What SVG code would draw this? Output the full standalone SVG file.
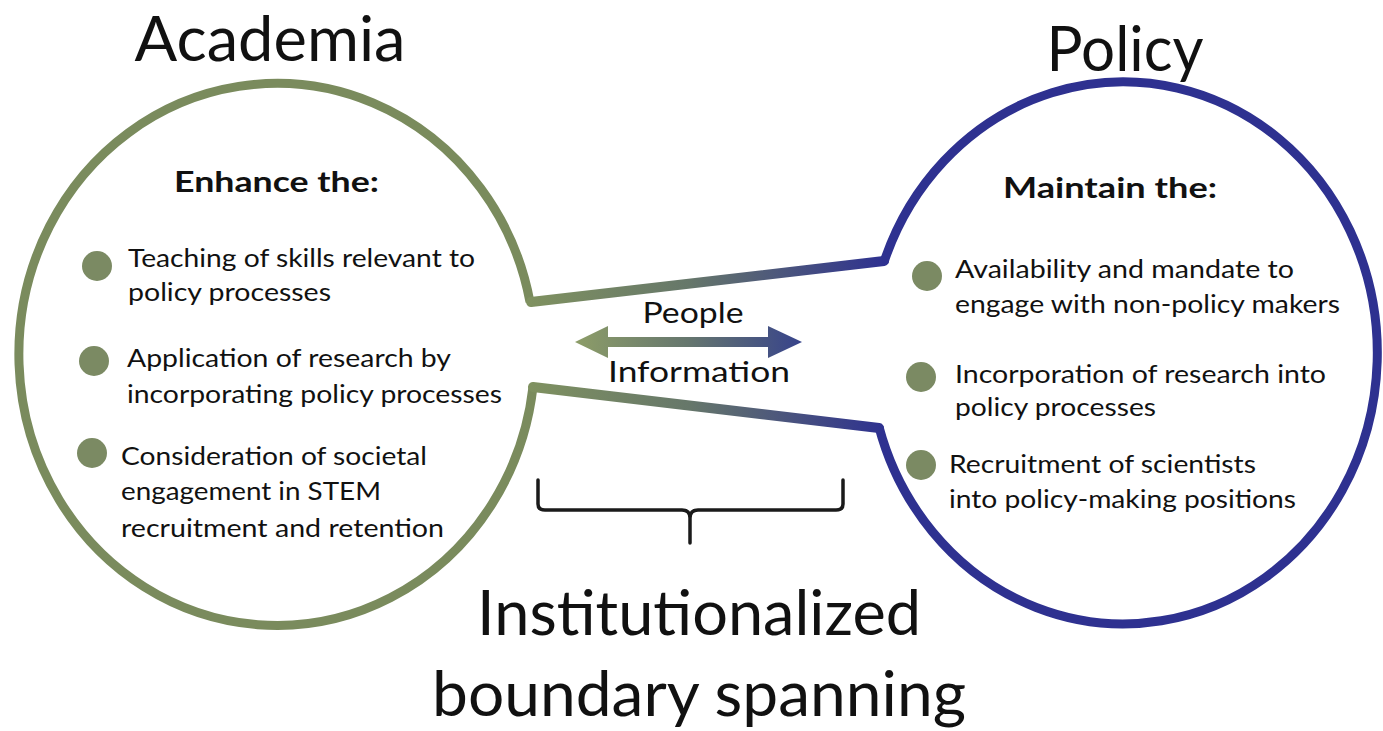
<svg xmlns="http://www.w3.org/2000/svg" width="1383" height="731" viewBox="0 0 1383 731">
<style>
text{font-family:Lato,"Open Sans","Liberation Sans",sans-serif;fill:#111;}
.title{font-size:62px;}
.caption{font-size:62px;}
.head{font-size:28px;font-weight:bold;}
.body{font-size:25.5px;}
.flow{font-size:29px;}
.bullet{fill:#7b8a63;}
.arcG{fill:none;stroke:#7a8b5d;stroke-width:9;}
.arcB{fill:none;stroke:#2e3190;stroke-width:9;}
.conn{fill:none;stroke-width:10;stroke-linecap:round;}
.brace{fill:none;stroke:#1a1a1a;stroke-width:3.5;stroke-linecap:round;stroke-linejoin:round;}
</style>
<defs>
<linearGradient id="gUp" gradientUnits="userSpaceOnUse" x1="530" y1="0" x2="884" y2="0">
<stop offset="0" stop-color="#7f9160"/><stop offset="0.45" stop-color="#66776a"/><stop offset="1" stop-color="#2e3190"/>
</linearGradient>
<linearGradient id="gArrow" gradientUnits="userSpaceOnUse" x1="575" y1="0" x2="802" y2="0">
<stop offset="0" stop-color="#8d9d68"/><stop offset="0.5" stop-color="#65766e"/><stop offset="1" stop-color="#37438b"/>
</linearGradient>
</defs>
<rect width="1383" height="731" fill="#ffffff"/>

<g id="academia">
<path class="arcG" d="M530,302 A258,271 0 1 0 533,387"/>
<text class="title" x="270" y="61" text-anchor="middle" textLength="271" lengthAdjust="spacingAndGlyphs">Academia</text>
<text class="head" x="174" y="192" textLength="205" lengthAdjust="spacingAndGlyphs">Enhance the:</text>
<circle class="bullet" cx="97" cy="266" r="15"/>
<text class="body" x="128" y="267" textLength="347" lengthAdjust="spacingAndGlyphs">Teaching of skills relevant to</text>
<text class="body" x="128" y="301" textLength="203" lengthAdjust="spacingAndGlyphs">policy processes</text>
<circle class="bullet" cx="94" cy="361" r="15"/>
<text class="body" x="127" y="367" textLength="324" lengthAdjust="spacingAndGlyphs">Application of research by</text>
<text class="body" x="127" y="403" textLength="375" lengthAdjust="spacingAndGlyphs">incorporating policy processes</text>
<circle class="bullet" cx="92" cy="453" r="15"/>
<text class="body" x="121" y="465" textLength="306" lengthAdjust="spacingAndGlyphs">Consideration of societal</text>
<text class="body" x="121" y="500" textLength="260" lengthAdjust="spacingAndGlyphs">engagement in STEM</text>
<text class="body" x="121" y="537" textLength="323" lengthAdjust="spacingAndGlyphs">recruitment and retention</text>
</g>

<g id="policy">
<path class="arcB" d="M884,262 A254,271 0 1 1 879,427"/>
<text class="title" x="1125" y="71" text-anchor="middle" textLength="157" lengthAdjust="spacingAndGlyphs">Policy</text>
<text class="head" x="1003" y="198" textLength="214" lengthAdjust="spacingAndGlyphs">Maintain the:</text>
<circle class="bullet" cx="927" cy="276" r="15"/>
<text class="body" x="955" y="278" textLength="339" lengthAdjust="spacingAndGlyphs">Availability and mandate to</text>
<text class="body" x="955" y="313" textLength="385" lengthAdjust="spacingAndGlyphs">engage with non-policy makers</text>
<circle class="bullet" cx="921" cy="377" r="15"/>
<text class="body" x="955" y="383" textLength="371" lengthAdjust="spacingAndGlyphs">Incorporation of research into</text>
<text class="body" x="955" y="416" textLength="201" lengthAdjust="spacingAndGlyphs">policy processes</text>
<circle class="bullet" cx="921" cy="465" r="15"/>
<text class="body" x="949" y="473" textLength="307" lengthAdjust="spacingAndGlyphs">Recruitment of scientists</text>
<text class="body" x="949" y="508" textLength="347" lengthAdjust="spacingAndGlyphs">into policy-making positions</text>
</g>

<g id="connectors">
<path class="conn" stroke="url(#gUp)" d="M531,302 L884,261"/>
<path class="conn" stroke="url(#gUp)" d="M533,387 L879,428"/>
<polygon fill="url(#gArrow)" points="575,342 608,326 608,337 768,337 768,326 802,342 768,358 768,347 608,347 608,358"/>
</g>

<g id="flow-labels">
<text class="flow" x="693" y="323" text-anchor="middle" textLength="101" lengthAdjust="spacingAndGlyphs">People</text>
<text class="flow" x="699" y="382" text-anchor="middle" textLength="182" lengthAdjust="spacingAndGlyphs">Information</text>
</g>

<g id="brace">
<path class="brace" d="M538,480 L538,504 Q538,510 545,510 L682,510 Q690,510 690,518 L690,543 M690,518 Q690,510 698,510 L836,510 Q843,510 843,504 L843,480"/>
</g>

<g id="spanning">
<text class="caption" x="699" y="635" text-anchor="middle" textLength="444" lengthAdjust="spacingAndGlyphs">Institutionalized</text>
<text class="caption" x="699" y="716" text-anchor="middle" textLength="534" lengthAdjust="spacingAndGlyphs">boundary spanning</text>
</g>
</svg>
